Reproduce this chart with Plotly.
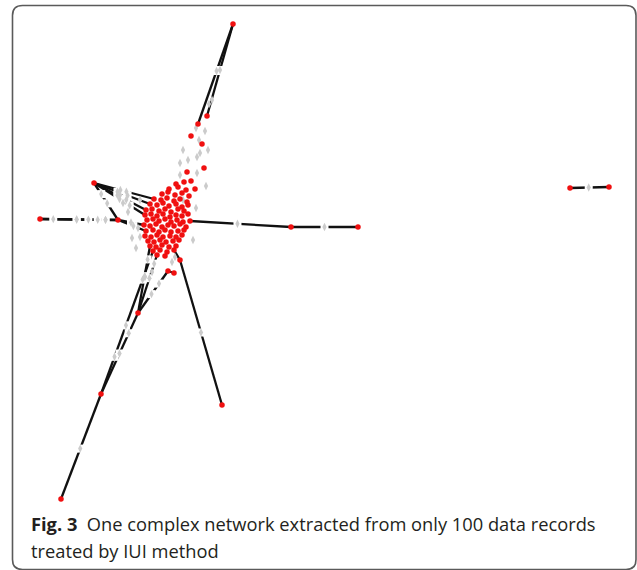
import plotly.graph_objects as go

# ---- named nodes (positions, pixel space) ----
hub_names = ["top", "t1", "t2", "t3", "t4", "t5", "t6", "t7", "t8",
             "r1", "r2", "rc1", "rc2",
             "l1", "l2", "l3",
             "b1", "b2", "b3", "b4", "b5", "b6", "b7",
             "cR", "cL1", "cL2", "cL3", "cL4", "cL5", "cL6",
             "cB1", "cB2", "cB3", "cB4"]
hub_x = [233, 207, 198, 191, 202, 204, 187, 195, 191,
         291, 358, 570, 609,
         40, 94, 118,
         61, 101, 138, 222, 180, 168, 174,
         190, 146, 150, 154, 145, 144, 146,
         150, 153, 157, 174]
hub_y = [24, 116, 124, 136, 144, 168, 172, 189, 181,
         227, 227, 188, 187,
         219, 183, 220,
         499, 394, 313, 405, 260, 271, 273,
         221, 210, 204, 199, 215, 225, 231,
         246, 251, 255, 250]

# ---- dense core of the network (unnamed nodes) ----
cluster_x = [176, 184,
             169, 178, 186,
             162, 168, 175, 182, 189,
             161, 167, 174, 180, 187,
             157, 163, 169, 176, 182, 188,
             152, 159, 165, 171, 178, 184,
             151, 157, 163, 170, 176, 182, 188,
             147, 153, 159, 165, 171, 177, 183,
             150, 156, 162, 168, 174, 180, 186,
             153, 159, 165, 171, 178, 184,
             145, 151, 157, 163, 170, 176, 182,
             148, 154, 160, 166, 173, 179,
             156, 162, 169, 176,
             160, 167,
             165]
cluster_y = [184, 182,
             189, 187, 190,
             194, 192, 195, 193, 196,
             200, 198, 201, 199, 202,
             205, 203, 206, 204, 207, 205,
             209, 211, 209, 212, 209, 211,
             214, 216, 214, 217, 215, 216, 214,
             220, 219, 221, 219, 222, 220, 222,
             226, 224, 227, 225, 226, 224, 227,
             230, 232, 230, 232, 231, 230,
             236, 237, 235, 237, 236, 237, 235,
             241, 242, 240, 242, 241, 240,
             247, 245, 247, 246,
             250, 252,
             256]

# ---- edges: (source, target, label positions as fraction along edge) ----
edge_src = ["top", "top", "cR", "r1", "rc1", "l1", "l1",
            "l2", "l2", "l2", "l2", "l2", "l3", "l3",
            "b1", "b2", "b2", "b3", "b3", "b3", "b4", "b5", "b7"]
edge_dst = ["t1", "t2", "r1", "r2", "rc2", "l3", "l3",
            "cL1", "cL2", "cL3", "cL4", "l3", "cL5", "cL6",
            "b2", "b3", "cB2", "cB1", "cB3", "b6", "b5", "cB4", "b6"]
edge_labels = [[0.5], [0.47], [0.47], [0.5], [0.48],
               [0.17, 0.47, 0.62, 0.74, 0.84], [0.47, 0.84],
               [0.45, 0.62], [0.42, 0.6], [0.44, 0.54], [0.5, 0.7], [0.3, 0.55],
               [0.5], [0.55],
               [0.48], [0.5, 0.75], [0.26, 0.48, 0.8], [0.55, 0.8], [0.6, 0.85],
               [0.45, 0.7], [0.5], [], []]

# ---- free-standing grey edge labels around the core ----
extra_lx = [212, 209, 196, 205, 199, 208, 197, 200, 188, 180, 197, 180, 206, 183,
            120, 123, 140, 138, 140, 163, 183, 175, 172, 152, 145, 196, 193,
            128, 132, 136]
extra_ly = [100, 104, 128, 131, 140, 150, 157, 153, 160, 163, 173, 175, 186, 150,
            195, 203, 200, 228, 237, 228, 200, 257, 262, 272, 277, 208, 240,
            212, 238, 248]

CAPTION_BOLD = "Fig. 3"
CAPTION_1 = "One complex network extracted from only 100 data records"
CAPTION_2 = "treated by IUI method"

pos = {n: (x, y) for n, x, y in zip(hub_names, hub_x, hub_y)}

fig = go.Figure()

# edges
ex, ey = [], []
for s, d in zip(edge_src, edge_dst):
    ex += [pos[s][0], pos[d][0], None]
    ey += [pos[s][1], pos[d][1], None]
fig.add_trace(go.Scatter(x=ex, y=ey, mode="lines",
                         line=dict(color="#111111", width=2.3),
                         hoverinfo="skip", showlegend=False))

# labels on edges
lx, ly = [], []
for s, d, ts in zip(edge_src, edge_dst, edge_labels):
    for t in ts:
        lx.append(pos[s][0] + t * (pos[d][0] - pos[s][0]))
        ly.append(pos[s][1] + t * (pos[d][1] - pos[s][1]))
fig.add_trace(go.Scatter(x=lx, y=ly, mode="markers",
                         marker=dict(symbol="square", size=8, color="white"),
                         hoverinfo="skip", showlegend=False))
fig.add_trace(go.Scatter(x=lx + extra_lx, y=ly + extra_ly, mode="markers",
                         marker=dict(symbol="diamond-tall", size=6, color="#cbcbcb",
                                     line=dict(width=0)),
                         hoverinfo="skip", showlegend=False))

# nodes
fig.add_trace(go.Scatter(x=hub_x + cluster_x, y=hub_y + cluster_y, mode="markers",
                         marker=dict(size=5.5, color="#f01010", line=dict(width=0)),
                         hoverinfo="skip", showlegend=False))

# rounded frame
x0, x1, y0, y1, r = 12.5, 636, 5.5, 569.5, 10
path = (f"M {x0+r},{y0} L {x1-r},{y0} Q {x1},{y0} {x1},{y0+r} "
        f"L {x1},{y1-r} Q {x1},{y1} {x1-r},{y1} L {x0+r},{y1} "
        f"Q {x0},{y1} {x0},{y1-r} L {x0},{y0+r} Q {x0},{y0} {x0+r},{y0} Z")
fig.add_shape(type="path", path=path, xref="x", yref="y",
              line=dict(color="#5a5a5a", width=1.6))

font = dict(family="Open Sans", size=18.3, color="#231f20")
fig.add_annotation(x=29, y=523, xref="x", yref="y", xanchor="left", yanchor="middle",
                   text=f"<b>{CAPTION_BOLD}</b>  {CAPTION_1}", showarrow=False, font=font)
fig.add_annotation(x=29, y=550, xref="x", yref="y", xanchor="left", yanchor="middle",
                   text=CAPTION_2, showarrow=False, font=font)

fig.update_layout(width=637, height=570, margin=dict(l=0, r=0, t=0, b=0),
                  paper_bgcolor="white", plot_bgcolor="white",
                  xaxis=dict(range=[0, 637], visible=False, fixedrange=True),
                  yaxis=dict(range=[570, 0], visible=False, fixedrange=True))

fig.write_html("out.html", config={"displayModeBar": False},
               post_script="document.body.style.margin='0';document.body.style.overflow='hidden';")
